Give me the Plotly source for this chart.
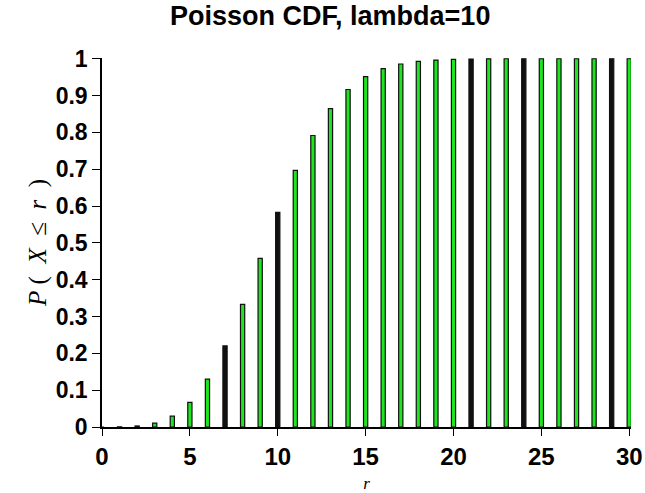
import plotly.graph_objects as go

r_values = list(range(0, 31))
cdf_values = [0.0000, 0.0005, 0.0028, 0.0103, 0.0293, 0.0671, 0.1301, 0.2202,
              0.3328, 0.4579, 0.5830, 0.6968, 0.7916, 0.8645, 0.9165, 0.9513,
              0.9730, 0.9857, 0.9928, 0.9965, 0.9984, 0.9993, 0.9997, 0.9999,
              1.0000, 1.0000, 1.0000, 1.0000, 1.0000, 1.0000, 1.0000]
x_ticks = [0, 5, 10, 15, 20, 25, 30]
y_ticks = [0, 0.1, 0.2, 0.3, 0.4, 0.5, 0.6, 0.7, 0.8, 0.9, 1]
y_tick_labels = ["0", "0.1", "0.2", "0.3", "0.4", "0.5", "0.6", "0.7", "0.8", "0.9", "1"]

GREEN = "#1ee61e"
BLACK = "#111111"
dark_bars = {7, 10, 21, 24, 29}
fill_colors = [BLACK if r in dark_bars else GREEN for r in r_values]

fig = go.Figure(go.Bar(
    x=r_values, y=cdf_values, width=0.24,
    marker=dict(color=fill_colors, line=dict(color=BLACK, width=1.2)),
))

fig.update_layout(
    width=645, height=493,
    margin=dict(l=102, r=14, t=58, b=66),
    paper_bgcolor="white", plot_bgcolor="white",
    showlegend=False,
    title=dict(text="<b>Poisson CDF, lambda=10</b>", x=0.512, xanchor="center",
               y=0.988, yanchor="top", automargin=False,
               font=dict(family="Liberation Sans", size=27, color="black")),
    xaxis=dict(range=[0, 30.1], tickvals=x_ticks, showgrid=False, zeroline=False,
               automargin=False,
               showline=True, linecolor="black", linewidth=1.5,
               ticks="outside", ticklen=7, tickcolor="black",
               tickfont=dict(family="Liberation Sans", size=24, color="black", weight="bold"),
               title=dict(text="<i>r</i>", standoff=20,
                          font=dict(family="Liberation Serif", size=17, color="black"))),
    yaxis=dict(range=[0, 1.002], tickvals=y_ticks, ticktext=y_tick_labels,
               showgrid=False, zeroline=False, automargin=False,
               showline=True, linecolor="black", linewidth=1.5,
               ticks="outside", ticklen=8, tickcolor="black",
               tickfont=dict(family="Liberation Sans", size=23, color="black", weight="bold"),
               title=dict(text="<i>P</i> (  <i>X</i>  ≤  <i>r</i>  )", standoff=2,
                          font=dict(family="Liberation Serif", size=25, color="black"))),
)

fig.write_html("out.html")
